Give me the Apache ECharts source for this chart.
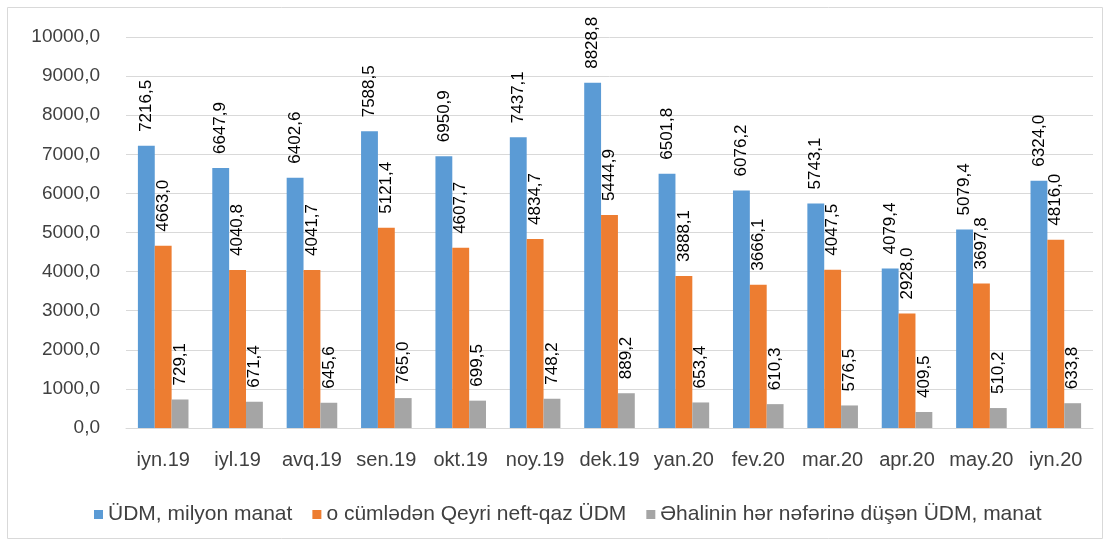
<!DOCTYPE html>
<html><head><meta charset="utf-8">
<script src="https://cdn.jsdelivr.net/npm/echarts@6/dist/echarts.min.js"></script>
<style>html,body{margin:0;padding:0;background:#fff}#c{width:1111px;height:545px}</style>
</head><body><div id="c"></div>
<script>
const categories = ['iyn.19','iyl.19','avq.19','sen.19','okt.19','noy.19','dek.19','yan.20','fev.20','mar.20','apr.20','may.20','iyn.20'];
const seriesNames = ['ÜDM, milyon manat','o cümlədən Qeyri neft-qaz ÜDM','Əhalinin hər nəfərinə düşən ÜDM, manat'];
const gdp = [7216.5,6647.9,6402.6,7588.5,6950.9,7437.1,8828.8,6501.8,6076.2,5743.1,4079.4,5079.4,6324.0];
const nonOil = [4663.0,4040.8,4041.7,5121.4,4607.7,4834.7,5444.9,3888.1,3666.1,4047.5,2928.0,3697.8,4816.0];
const perCapita = [729.1,671.4,645.6,765.0,699.5,748.2,889.2,653.4,610.3,576.5,409.5,510.2,633.8];
const colors = ['#5B9BD5','#ED7D31','#A5A5A5'];
const fmt = v => Number(v).toFixed(1).replace('.', ',');
const FONT = 'Liberation Sans';
const chart = echarts.init(document.getElementById('c'));
const mk = (name, data, color) => ({
  name, type: 'bar', data, barGap: '0%', barCategoryGap: '32%',
  itemStyle: { color },
  label: { show: true, position: 'top', rotate: 90, align: 'left', verticalAlign: 'middle', distance: 14,
    formatter: p => fmt(p.value), color: '#000', fontSize: 17, fontFamily: FONT }
});
chart.setOption({
  animation: false,
  textStyle: { fontFamily: FONT },
  graphic: [{ type: 'rect', shape: { x: 7.5, y: 7.5, width: 1095, height: 531 }, style: { fill: 'none', stroke: '#d9d9d9', lineWidth: 1 } }],
  grid: { left: 126, right: 18, top: 37, bottom: 117 },
  legend: { top: 499, left: 89, itemWidth: 9, itemHeight: 9, itemGap: 20, icon: 'rect',
    textStyle: { fontSize: 21, color: '#404040', fontFamily: FONT }, data: seriesNames },
  xAxis: { type: 'category', data: categories,
    axisLine: { lineStyle: { color: '#d9d9d9' } }, axisTick: { show: false },
    axisLabel: { color: '#404040', fontSize: 20, margin: 22, interval: 0, fontFamily: FONT } },
  yAxis: { type: 'value', min: 0, max: 10000, interval: 1000,
    axisLine: { show: false }, axisTick: { show: false },
    splitLine: { lineStyle: { color: '#d9d9d9' } },
    axisLabel: { color: '#404040', fontSize: 19, margin: 26, formatter: v => fmt(v), fontFamily: FONT } },
  series: [mk(seriesNames[0], gdp, colors[0]), mk(seriesNames[1], nonOil, colors[1]), mk(seriesNames[2], perCapita, colors[2])]
});
</script></body></html>
